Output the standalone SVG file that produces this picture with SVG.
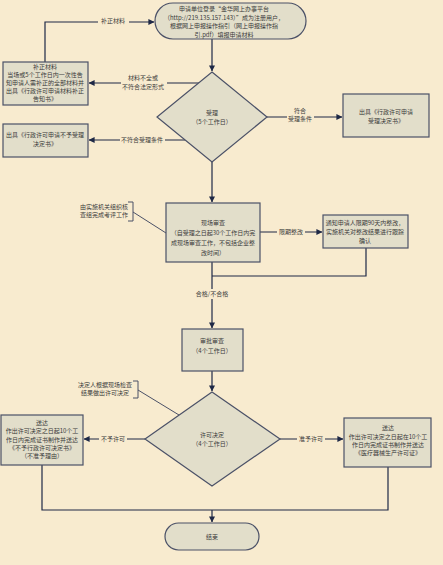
<svg xmlns="http://www.w3.org/2000/svg" width="443" height="565" viewBox="0 0 443 565">
<defs>
<marker id="ah" viewBox="0 0 8 8" refX="7.5" refY="4" markerWidth="6" markerHeight="6" markerUnits="userSpaceOnUse" orient="auto">
<path d="M0,0 L8,4 L0,8 z" fill="#1E2846"/>
</marker>
<style>
.box{fill:#E2DECA;stroke:#4B5167;stroke-width:1.2}
.t{font-family:"Noto Sans CJK SC","Noto Sans",sans-serif;font-size:6px;fill:#3a3a3a;text-anchor:middle}
.c{stroke:#1E2846;stroke-width:1.2;fill:none}
.a{marker-end:url(#ah)}
.bg{fill:#F8EBCF}
.br{stroke:#4B5167;stroke-width:1;fill:none}
</style>
</defs>
<rect width="443" height="565" fill="#F8EBCF"/>

<g id="connectors">
<path class="c a" d="M45,62 V22 H154"/>
<path class="c a" d="M212,39 V71"/>
<path class="c a" d="M199,83 H89"/>
<path class="c a" d="M185,140 H89"/>
<path class="c a" d="M267,117 H342"/>
<path class="c a" d="M212,162 V202"/>
<path class="c a" d="M260,232 H322"/>
<path class="c" d="M366,248 V276 H212"/>
<path class="c a" d="M212,262 V328"/>
<path class="c a" d="M212,371 V391"/>
<path class="c a" d="M145,439 H84"/>
<path class="c a" d="M280,439 H343"/>
<path class="c" d="M42,465 V510 H388 V467"/>
<path class="c a" d="M212,510 V522"/>
<path class="br" d="M128,202 H133 V221 H128"/>
<path class="br" d="M133,212 L166,233"/>
<path class="br" d="M133,381 H138 V398 H133"/>
<path class="br" d="M138,390 L179,415"/>
<rect class="bg" x="98" y="16" width="31" height="9"/>
<text class="t" x="113" y="23">补正材料</text>
<rect class="bg" x="121" y="73" width="46" height="18"/>
<text class="t" x="143" y="80">材料不全或</text>
<text class="t" x="143" y="89">不符合法定形式</text>
<rect class="bg" x="120" y="135" width="45" height="10"/>
<text class="t" x="142" y="142">不符合受理条件</text>
<rect class="bg" x="287" y="106" width="27" height="17"/>
<text class="t" x="300" y="113">符合</text>
<text class="t" x="300" y="121">受理条件</text>
<rect class="bg" x="277" y="227" width="28" height="10"/>
<text class="t" x="291" y="234">限期整改</text>
<rect class="bg" x="193" y="289" width="38" height="10"/>
<text class="t" x="212" y="296">合格/不合格</text>
<rect class="bg" x="99" y="434" width="28" height="10"/>
<text class="t" x="113" y="441">不予许可</text>
<rect class="bg" x="297" y="434" width="28" height="10"/>
<text class="t" x="311" y="441">准予许可</text>
</g>

<g id="start">
<rect class="box" x="155" y="3" width="151" height="36" rx="18"/>
<text class="t" x="224" y="11">申请单位登录“金华网上办事平台</text>
<text class="t" x="224" y="19.5">（http://219.135.157.143）”成为注册用户，</text>
<text class="t" x="224" y="28">根据网上申报操作指引（网上申报操作指</text>
<text class="t" x="224" y="36.5">引.pdf）填报申请材料</text>
</g>

<g id="supplement">
<rect class="box" x="3" y="62" width="85" height="43"/>
<text class="t" x="45" y="69">补正材料</text>
<text class="t" x="45" y="77">当场或5个工作日内一次性告</text>
<text class="t" x="45" y="85">知申请人需补正的全部材料并</text>
<text class="t" x="45" y="93">出具《行政许可申请材料补正</text>
<text class="t" x="45" y="101">告知书》</text>
</g>

<g id="accept">
<polygon class="box" points="212,72 267,117 212,162 157,117"/>
<text class="t" x="212" y="115">受理</text>
<text class="t" x="212" y="124">（5个工作日）</text>
</g>

<g id="accept-doc">
<rect class="box" x="343" y="94" width="86" height="43"/>
<text class="t" x="386" y="114">出具《行政许可申请</text>
<text class="t" x="386" y="123">受理决定书》</text>
</g>

<g id="reject-doc">
<rect class="box" x="3" y="124" width="85" height="33"/>
<text class="t" x="45" y="137">出具《行政许可申请不予受理</text>
<text class="t" x="45" y="146">决定书》</text>
</g>

<g id="note1">
<text class="t" x="104" y="209">由实施机关组织核</text>
<text class="t" x="104" y="217">查组完成考评工作</text>
</g>

<g id="inspect">
<rect class="box" x="166" y="203" width="94" height="59"/>
<text class="t" x="213" y="225">现场审查</text>
<text class="t" x="213" y="235">（自受理之日起30个工作日内完</text>
<text class="t" x="213" y="245">成现场审查工作，不包括企业整</text>
<text class="t" x="213" y="255">改时间）</text>
</g>

<g id="rectify">
<rect class="box" x="323" y="215" width="85" height="33"/>
<text class="t" x="365" y="225">通知申请人限期90天内整改，</text>
<text class="t" x="365" y="234">实施机关对整改结果进行跟踪</text>
<text class="t" x="365" y="243">确认</text>
</g>

<g id="review">
<rect class="box" x="182" y="329" width="61" height="42"/>
<text class="t" x="212" y="343">审批审查</text>
<text class="t" x="212" y="353">（4个工作日）</text>
</g>

<g id="note2">
<text class="t" x="105" y="387">决定人根据现场检查</text>
<text class="t" x="105" y="395">结果做出许可决定</text>
</g>

<g id="decide">
<polygon class="box" points="212,392 280,439 212,486 145,439"/>
<text class="t" x="212" y="437">许可决定</text>
<text class="t" x="212" y="446">（4个工作日）</text>
</g>

<g id="deliver-no">
<rect class="box" x="1" y="415" width="82" height="50"/>
<text class="t" x="42" y="425">送达</text>
<text class="t" x="42" y="433">作出许可决定之日起10个工</text>
<text class="t" x="42" y="442">作日内完成证书制作并送达</text>
<text class="t" x="42" y="450">《不予行政许可决定书》</text>
<text class="t" x="42" y="458">（不准予理由）</text>
</g>

<g id="deliver-yes">
<rect class="box" x="344" y="418" width="87" height="49"/>
<text class="t" x="388" y="430">送达</text>
<text class="t" x="388" y="439">作出许可决定之日起在10个工</text>
<text class="t" x="388" y="447">作日内完成证书制作并送达</text>
<text class="t" x="388" y="455">《医疗器械生产许可证》</text>
</g>

<g id="end">
<rect class="box" x="165" y="523" width="94" height="27" rx="13.5"/>
<text class="t" x="212" y="539">结束</text>
</g>
</svg>
